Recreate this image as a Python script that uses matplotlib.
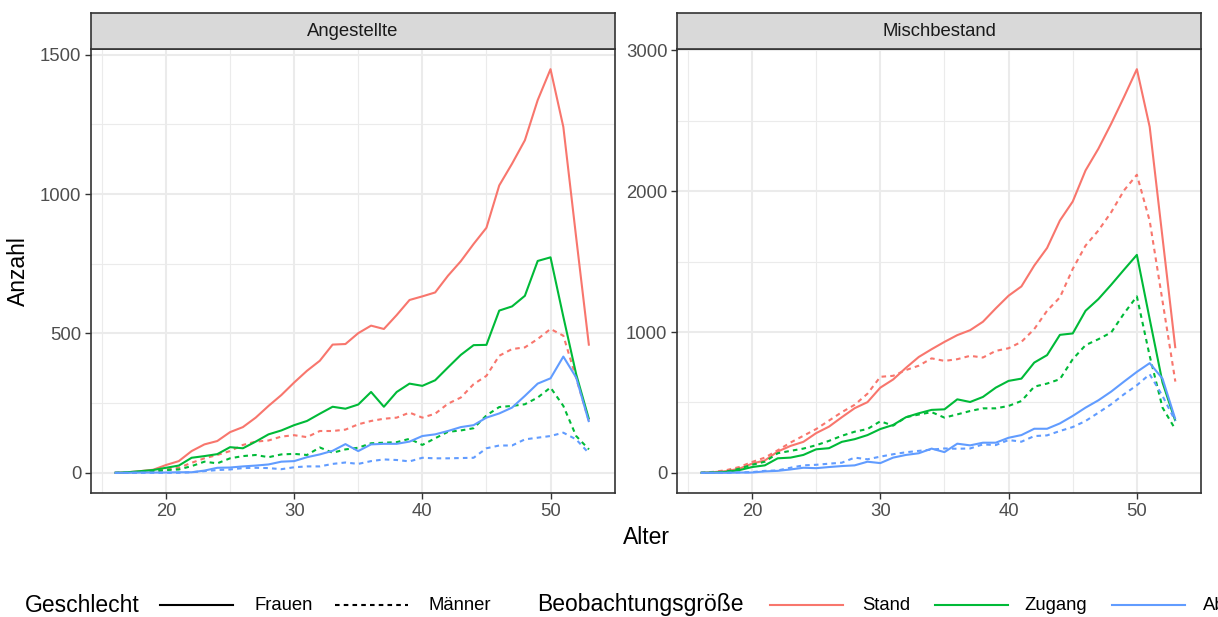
import matplotlib
matplotlib.use("Agg")
import matplotlib.pyplot as plt
from matplotlib.lines import Line2D

plt.rcParams['font.family'] = ['Liberation Sans', 'DejaVu Sans']

# Alter (Jahre)
alter = list(range(16, 54))

# Angestellte
ang_stand_f = [0, 2, 6, 11, 28, 42, 78, 102, 114, 146, 164, 198, 240, 279, 324, 366, 402, 460, 462, 501,
               528, 516, 566, 620, 633, 647, 707, 759, 821, 879, 1031, 1109, 1193, 1337, 1448, 1241, 845, 456]
ang_stand_m = [0, 1, 3, 6, 12, 18, 36, 52, 64, 78, 100, 112, 116, 130, 135, 128, 150, 150, 155, 174,
               186, 194, 198, 216, 198, 212, 248, 270, 318, 348, 420, 444, 450, 480, 516, 492, 340, 185]
ang_zugang_f = [0, 2, 6, 10, 18, 26, 54, 60, 67, 92, 88, 112, 138, 152, 171, 186, 212, 237, 230, 245,
                290, 237, 290, 320, 312, 332, 378, 423, 458, 459, 582, 597, 635, 760, 773, 560, 354, 192]
ang_zugang_m = [0, 1, 2, 4, 10, 12, 24, 40, 34, 52, 60, 64, 56, 66, 68, 64, 91, 72, 84, 90,
                106, 108, 110, 122, 100, 124, 147, 152, 160, 206, 236, 240, 246, 270, 306, 240, 132, 84]
ang_abgang_f = [0, 0, 1, 1, 1, 2, 2, 8, 18, 19, 23, 26, 30, 40, 42, 56, 66, 79, 103, 78,
                102, 104, 104, 112, 132, 138, 150, 164, 171, 198, 213, 234, 276, 320, 339, 417, 342, 182]
ang_abgang_m = [0, 0, 0, 0, 0, 0, 2, 6, 10, 12, 17, 18, 17, 13, 20, 23, 23, 32, 37, 32,
                42, 48, 46, 41, 54, 52, 52, 53, 54, 88, 98, 98, 120, 126, 132, 144, 120, 70]

# Mischbestand
mix_stand_f = [0, 5, 12, 29, 65, 88, 151, 191, 220, 282, 328, 395, 459, 502, 605, 663, 746, 823, 878, 930,
               978, 1013, 1073, 1168, 1258, 1324, 1472, 1597, 1792, 1927, 2148, 2302, 2480, 2670, 2867, 2457, 1670, 885]
mix_stand_m = [0, 7, 19, 41, 77, 108, 160, 215, 263, 311, 371, 431, 483, 562, 682, 689, 730, 761, 813, 795,
               807, 831, 819, 866, 885, 930, 1021, 1151, 1246, 1448, 1614, 1721, 1851, 2006, 2117, 1790, 1220, 648]
mix_zugang_f = [0, 2, 7, 19, 41, 53, 103, 108, 127, 167, 175, 220, 239, 268, 311, 340, 395, 423, 447, 451,
                522, 503, 539, 605, 653, 669, 783, 836, 980, 990, 1151, 1234, 1336, 1443, 1548, 1092, 641, 368]
mix_zugang_m = [0, 3, 9, 29, 57, 79, 139, 156, 172, 196, 227, 263, 292, 311, 366, 335, 395, 414, 431, 392,
                415, 439, 458, 458, 475, 510, 612, 634, 665, 807, 907, 949, 997, 1132, 1253, 830, 463, 309]
mix_abgang_f = [0, 0, 0, 2, 2, 10, 14, 24, 36, 33, 41, 48, 53, 79, 69, 108, 127, 139, 172, 147,
                207, 195, 214, 214, 249, 268, 313, 313, 351, 404, 463, 515, 577, 648, 717, 779, 669, 380]
mix_abgang_m = [0, 0, 0, 3, 5, 14, 17, 36, 53, 57, 65, 72, 108, 96, 115, 132, 146, 156, 165, 173,
                171, 173, 202, 197, 233, 221, 261, 266, 297, 325, 368, 427, 487, 558, 622, 700, 546, 368]

groessen = ["Stand", "Zugang", "Abgang"]
geschlechter = ["Frauen", "Männer"]
colors = {"Stand": "#F8766D", "Zugang": "#00BA38", "Abgang": "#619CFF"}
styles = {"Frauen": "-", "Männer": (0, (2.2, 2.0))}

panels = [
    ("Angestellte", {"Stand": (ang_stand_f, ang_stand_m),
                     "Zugang": (ang_zugang_f, ang_zugang_m),
                     "Abgang": (ang_abgang_f, ang_abgang_m)},
     [0, 500, 1000, 1500], [250, 750, 1250]),
    ("Mischbestand", {"Stand": (mix_stand_f, mix_stand_m),
                      "Zugang": (mix_zugang_f, mix_zugang_m),
                      "Abgang": (mix_abgang_f, mix_abgang_m)},
     [0, 1000, 2000, 3000], [500, 1500, 2500]),
]

W, H = 1218, 617
fig = plt.figure(figsize=(W / 100, H / 100), dpi=100)

lw = 1.5
grid_col = "#EBEBEB"
frame_col = "#333333"
panel_x = [(91, 614.6), (677, 1201)]
top, bottom = 49, 493
strip_top = 13

for (name, series, yt, ymin), (x0, x1) in zip(panels, panel_x):
    ax = fig.add_axes([x0 / W, 1 - bottom / H, (x1 - x0) / W, (bottom - top) / H])
    for g in groessen:
        for sex, vals in zip(geschlechter, series[g]):
            ax.plot(alter, vals, color=colors[g], linestyle=styles[sex], lw=lw,
                    solid_capstyle="butt", dash_capstyle="butt", zorder=3)
    # ggplot-like 5 % expansion
    xr = max(alter) - min(alter)
    ax.set_xlim(min(alter) - 0.05 * xr, max(alter) + 0.05 * xr)
    allv = [v for g in groessen for s in series[g] for v in s]
    yr = max(allv) - min(allv)
    ax.set_ylim(min(allv) - 0.05 * yr, max(allv) + 0.05 * yr)

    ax.set_xticks([20, 30, 40, 50])
    ax.set_xticks([15, 25, 35, 45, 55], minor=True)
    ax.set_yticks(yt)
    ax.set_yticks(ymin, minor=True)
    ax.grid(which="major", color=grid_col, lw=1.5, zorder=0)
    ax.grid(which="minor", color=grid_col, lw=0.8, zorder=0)
    ax.set_axisbelow(True)
    ax.tick_params(which="major", length=4, width=1, color=frame_col,
                   labelcolor="#4D4D4D", labelsize=13.3, pad=3)
    ax.tick_params(which="minor", length=0)
    for sp in ax.spines.values():
        sp.set_color(frame_col)
        sp.set_linewidth(1.2)

    # facet strip
    sax = fig.add_axes([x0 / W, 1 - top / H, (x1 - x0) / W, (top - strip_top) / H])
    sax.set_facecolor("#D9D9D9")
    sax.set_xticks([])
    sax.set_yticks([])
    for sp in sax.spines.values():
        sp.set_color(frame_col)
        sp.set_linewidth(1.2)
    sax.text(0.5, 0.5, name, ha="center", va="center", fontsize=13.3,
             color="#1A1A1A", transform=sax.transAxes)

# title, sitting above the top edge so only the descenders reach in
fig.text(152 / W, 1 + 5.5 / H, "Bestand, Zugang und Abgang nach Alter",
         fontsize=19.7, fontweight="bold", ha="left", va="baseline")

fig.text(646 / W, 1 - 538 / H, "Alter", ha="center", va="center", fontsize=16.5)
fig.text(18 / W, 1 - 271 / H, "Anzahl", ha="center", va="center", fontsize=16.5,
         rotation=90)

# legend row at the bottom
ly = 1 - 605 / H
fig.text(25 / W, ly, "Geschlecht", ha="left", va="center", fontsize=16.5)
fig.add_artist(Line2D([160 / W, 233 / W], [ly, ly], color="black", lw=lw))
fig.text(255 / W, ly, "Frauen", ha="left", va="center", fontsize=13.3)
fig.add_artist(Line2D([335 / W, 408 / W], [ly, ly], color="black", lw=lw,
                      linestyle=styles["Männer"], dash_capstyle="butt"))
fig.text(428 / W, ly, "Männer", ha="left", va="center", fontsize=13.3)

fig.text(537 / W, ly, "Beobachtungsgröße", ha="left", va="center", fontsize=16.5)
for g, (l0, t0) in zip(groessen, [(770, 862), (935, 1024), (1112, 1203)]):
    fig.add_artist(Line2D([l0 / W, (l0 + 73) / W], [ly, ly], color=colors[g], lw=lw))
    fig.text(t0 / W, ly, g, ha="left", va="center", fontsize=13.3)

fig.savefig("out.png", dpi=100)
